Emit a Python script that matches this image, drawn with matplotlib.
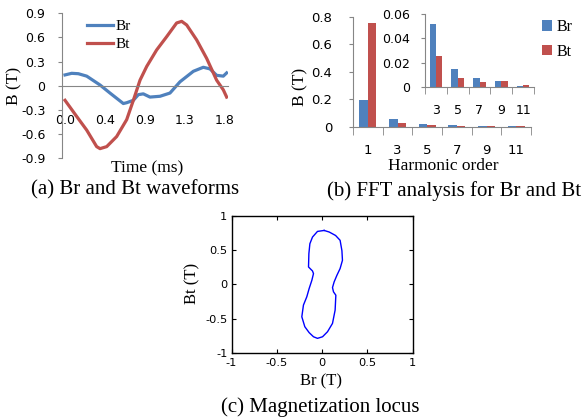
import numpy as np
import matplotlib
matplotlib.use("Agg")
import matplotlib.pyplot as plt

# (a) waveforms
t_br = [0, 0.075, 0.15, 0.244, 0.394, 0.506, 0.656, 0.694, 0.769, 0.825, 0.881,
        0.956, 1.069, 1.181, 1.294, 1.444, 1.556, 1.631, 1.706, 1.781, 1.819]
br = [0.135, 0.155, 0.15, 0.12, 0.01, -0.09, -0.22, -0.21, -0.18, -0.11, -0.10,
      -0.14, -0.13, -0.09, 0.05, 0.18, 0.23, 0.21, 0.13, 0.12, 0.16]
t_bt = [0, 0.131, 0.244, 0.356, 0.394, 0.469, 0.581, 0.694, 0.769, 0.844, 0.919,
        1.031, 1.144, 1.256, 1.313, 1.369, 1.481, 1.594, 1.706, 1.781, 1.819]
bt = [-0.18, -0.38, -0.55, -0.755, -0.78, -0.755, -0.63, -0.42, -0.18, 0.07, 0.24,
      0.445, 0.61, 0.78, 0.80, 0.755, 0.57, 0.34, 0.07, -0.05, -0.14]
time_ticks = [0, 0.45, 0.9, 1.35, 1.8]
time_labels = ["0.0", "0.4", "0.9", "1.3", "1.8"]

# (b) harmonic amplitudes
harmonics = ["1", "3", "5", "7", "9", "11"]
fft_br = [0.196, 0.0516, 0.0147, 0.0074, 0.0052, 0.0011]
fft_bt = [0.755, 0.0259, 0.0074, 0.0043, 0.0052, 0.0019]

# (c) locus Br vs Bt
locus_br = [0.024, 0.08, 0.15, 0.20, 0.22, 0.226, 0.20, 0.164, 0.134, 0.116, 0.127,
            0.153, 0.145, 0.116, 0.061, 0.006, -0.05, -0.094, -0.142, -0.19, -0.223,
            -0.205, -0.168, -0.142, -0.112, -0.094, -0.105, -0.149, -0.145, -0.134,
            -0.105, -0.05, 0.024]
locus_bt = [0.783, 0.76, 0.71, 0.64, 0.49, 0.35, 0.23, 0.13, 0.036, -0.046, -0.108,
            -0.157, -0.373, -0.566, -0.687, -0.76, -0.783, -0.76, -0.70, -0.614, -0.47,
            -0.30, -0.18, -0.06, 0.06, 0.157, 0.195, 0.253, 0.446, 0.59,
            0.687, 0.769, 0.783]

BLUE = "#4F81BD"
RED = "#C0504D"
GREY = "#868686"
SERIF = "Liberation Serif"
SANS = "DejaVu Sans"

W, H = 588, 418
fig = plt.figure(figsize=(W / 100, H / 100), dpi=100)


def box(l, t, r, b):
    return [l / W, 1 - b / H, (r - l) / W, (b - t) / H]


def ftext(x, y, s, **kw):
    kw.setdefault("family", SERIF)
    fig.text(x / W, 1 - y / H, s, ha=kw.pop("ha", "center"), va=kw.pop("va", "center"), **kw)


def excel_axes(ax):
    for s in ["top", "right"]:
        ax.spines[s].set_visible(False)
    for s in ["left", "bottom"]:
        ax.spines[s].set_color(GREY)
        ax.spines[s].set_linewidth(0.8)
    ax.tick_params(colors=GREY, labelcolor="black", labelsize=9)
    for lab in ax.get_xticklabels() + ax.get_yticklabels():
        lab.set_family(SANS)


# ---- (a) ----
ax1 = fig.add_axes(box(62, 13.3, 228, 158.3))
ax1.plot(t_br, br, color=BLUE, lw=2.3, label="Br")
ax1.plot(t_bt, bt, color=RED, lw=2.3, label="Bt")
ax1.set_xlim(-0.034, 1.834)
ax1.set_ylim(-0.9, 0.9)
ax1.spines["bottom"].set_position(("data", 0))
ax1.set_yticks(np.arange(-0.9, 0.91, 0.3))
ax1.set_yticklabels(["-0.9", "-0.6", "-0.3", "0", "0.3", "0.6", "0.9"])
ax1.set_xticks(time_ticks)
ax1.set_xticklabels(time_labels)
excel_axes(ax1)
ax1.tick_params(axis="y", length=3, pad=9)
ax1.tick_params(axis="x", length=0, pad=20)
ax1.patch.set_alpha(0)
ax1.legend(loc="upper left", bbox_to_anchor=(79 / W, 1 - 12 / H), bbox_transform=fig.transFigure,
           frameon=False, borderpad=0, handlelength=1.75, handletextpad=0.15, labelspacing=0.25,
           prop={"family": SERIF, "size": 11})
ftext(14, 86, "B (T)", rotation=90, size=12.5)
ftext(147, 168, "Time (ms)", size=12.5)
ftext(135, 190, "(a) Br and Bt waveforms", size=15)

# ---- (b) ----
x = np.arange(1, len(harmonics) + 1)
bw = 0.29
ax2 = fig.add_axes(box(353, 17, 531, 126.5))
b1 = ax2.bar(x - bw / 2, fft_br, bw, color=BLUE, label="Br")
b2 = ax2.bar(x + bw / 2, fft_bt, bw, color=RED, label="Bt")
ax2.set_xlim(0.5, len(harmonics) + 0.5)
ax2.set_ylim(0, 0.8)
ax2.set_yticks([0, 0.2, 0.4, 0.6, 0.8])
ax2.set_yticklabels(["0", "0.2", "0.4", "0.6", "0.8"])
ax2.set_xticks(x)
ax2.set_xticklabels(harmonics)
ax2.set_xticks(np.arange(0.5, len(harmonics) + 1), minor=True)
excel_axes(ax2)
ax2.tick_params(axis="y", length=3, pad=12, labelsize=9.5)
ax2.tick_params(axis="x", which="major", length=0, pad=12.5, labelsize=9.5)
ax2.tick_params(axis="x", which="minor", length=6, color=GREY)
ax2.patch.set_alpha(0)
ax2.legend(loc="upper left", bbox_to_anchor=(534 / W, 1 - 11 / H), bbox_transform=fig.transFigure,
           frameon=False, borderpad=0, handlelength=0.65, handleheight=0.65, handletextpad=0.25,
           labelspacing=0.55, prop={"family": SERIF, "size": 11.5})

xi = np.arange(1, len(harmonics))
ax3 = fig.add_axes(box(425, 14, 534, 87.3))
ax3.bar(xi - bw / 2, fft_br[1:], bw, color=BLUE)
ax3.bar(xi + bw / 2, fft_bt[1:], bw, color=RED)
ax3.set_xlim(0.5, len(xi) + 0.5)
ax3.set_ylim(0, 0.06)
ax3.set_yticks([0, 0.02, 0.04, 0.06])
ax3.set_yticklabels(["0", "0.02", "0.04", "0.06"])
ax3.set_xticks(xi)
ax3.set_xticklabels(harmonics[1:])
ax3.set_xticks(np.arange(0.5, len(xi) + 1), minor=True)
excel_axes(ax3)
ax3.tick_params(axis="y", length=3, pad=8, labelsize=9)
ax3.tick_params(axis="x", which="major", length=0, pad=12, labelsize=9)
ax3.tick_params(axis="x", which="minor", length=5, color=GREY)
ax3.patch.set_alpha(0)

ftext(300, 87, "B (T)", rotation=90, size=12.5)
ftext(443, 166, "Harmonic order", size=12.5)
ftext(327, 191, "(b) FFT analysis for Br and Bt", size=15, ha="left")

# ---- (c) ----
ax4 = fig.add_axes(box(231.5, 215.5, 412.5, 353.3))
ax4.plot(locus_br, locus_bt, color="#0000FF", lw=1.0)
ax4.set_xlim(-1, 1)
ax4.set_ylim(-1, 1)
ticks = [-1, -0.5, 0, 0.5, 1]
tlabels = ["-1", "-0.5", "0", "0.5", "1"]
ax4.set_xticks(ticks)
ax4.set_xticklabels(tlabels)
ax4.set_yticks(ticks)
ax4.set_yticklabels(tlabels)
ax4.tick_params(direction="in", top=True, right=True, length=3, width=0.8,
                labelsize=8.2)
ax4.tick_params(axis="x", pad=3.5)
ax4.tick_params(axis="y", pad=3)
for lab in ax4.get_xticklabels() + ax4.get_yticklabels():
    lab.set_family(SANS)
for s in ax4.spines.values():
    s.set_linewidth(1.0)
ftext(321, 381, "Br (T)", size=12)
ftext(192, 283, "Bt (T)", rotation=90, size=12)
ftext(320, 407, "(c) Magnetization locus", size=15)

fig.savefig("out.png", dpi=100)
